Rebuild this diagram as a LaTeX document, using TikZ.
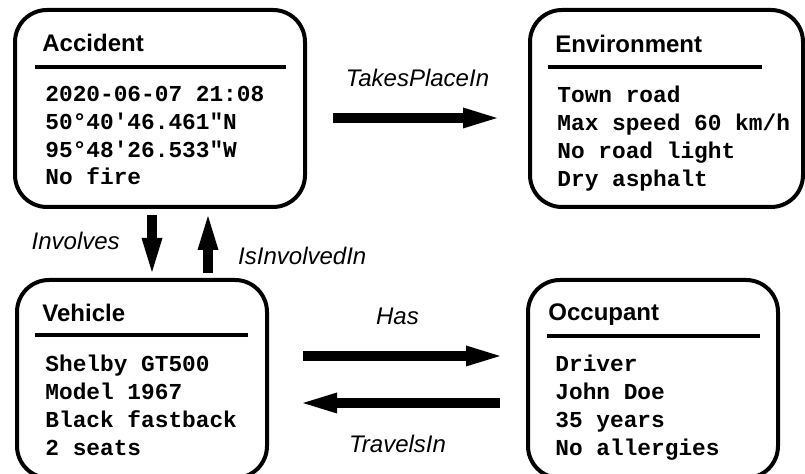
\documentclass[tikz,border=0pt]{standalone}
\usepackage{fontspec}
\setmainfont{Liberation Sans}
\setmonofont{Liberation Mono}
\usetikzlibrary{arrows.meta,positioning}

\tikzset{
  entity/.style={draw, line width=2pt, rounded corners=16pt, outer sep=0pt, anchor=north west},
  entitytitle/.style={anchor=base west, inner sep=0pt, font=\fontsize{12}{14}\selectfont\bfseries},
  divider/.style={line width=2pt},
  attrs/.style={anchor=north west, inner sep=0pt, align=left,
    font=\fontsize{11.4}{13.85}\selectfont\ttfamily\bfseries, execute at begin node=\strut},
  relation/.style={line width=5.25pt, -{Triangle[length=17pt,width=10.5pt,line width=0pt]}},
  rellabel/.style={inner sep=0pt, font=\fontsize{12}{14}\selectfont\itshape}
}

\begin{document}
\begin{tikzpicture}[x=0.5pt,y=-0.5pt]
  \useasboundingbox (0,0) rectangle (805,474);
  \clip (0,0) rectangle (805,474);
  \fill[white] (0,0) rectangle (805,474);

  % Accident box
  \node[entity, minimum width=145pt, minimum height=98.5pt] (acc) at (15,10) {};
  \node[entitytitle] (acctitle) at ([xshift=13.5pt,yshift=-21pt]acc.north west) {Accident};
  \draw[divider] ([xshift=10pt,yshift=-28.5pt]acc.north west) -- ([xshift=-9.5pt,yshift=-28.5pt]acc.north east);
  \node[attrs] (accattrs) at ([xshift=15pt,yshift=-38pt]acc.north west)
    {2020-06-07 21:08\\50°40′46.461″N\\95°48′26.533″W\\No fire};

  % Environment box
  \node[entity, minimum width=136.5pt, minimum height=98.5pt] (env) at (530,10) {};
  \node[entitytitle] (envtitle) at ([xshift=12.5pt,yshift=-21.5pt]env.north west) {Environment};
  \draw[divider] ([xshift=9pt,yshift=-28.5pt]env.north west) -- ([xshift=-20.5pt,yshift=-28.5pt]env.north east);
  \node[attrs] (envattrs) at ([xshift=13.5pt,yshift=-38pt]env.north west)
    {Town road\\Max speed 60 km/h\\No road light\\Dry asphalt};

  % Vehicle box
  \node[entity, minimum width=125pt, minimum height=99pt] (veh) at (17,280) {};
  \node[entitytitle] (vehtitle) at ([xshift=12.5pt,yshift=-21pt]veh.north west) {Vehicle};
  \draw[divider] ([xshift=9pt,yshift=-27.5pt]veh.north west) -- ([xshift=-9.5pt,yshift=-27.5pt]veh.north east);
  \node[attrs] (vehattrs) at ([xshift=14pt,yshift=-37.5pt]veh.north west)
    {Shelby GT500\\Model 1967\\Black fastback\\2 seats};

  % Occupant box
  \node[entity, minimum width=125pt, minimum height=99pt] (occ) at (528,280) {};
  \node[entitytitle] (occtitle) at ([xshift=10pt,yshift=-20.5pt]occ.north west) {Occupant};
  \draw[divider] ([xshift=9.5pt,yshift=-28pt]occ.north west) -- ([xshift=-9pt,yshift=-28pt]occ.north east);
  \node[attrs] (occattrs) at ([xshift=13.5pt,yshift=-37.5pt]occ.north west)
    {Driver\\John Doe\\35 years\\No allergies};

  % Relations
  \draw[relation, shorten <=14pt, shorten >=16.5pt] ([yshift=-4.75pt]acc.east) -- ([yshift=-4.75pt]env.west)
    node[rellabel, midway, above=13pt] (takes) {TakesPlaceIn};
  \draw[relation, shorten <=4pt, shorten >=4pt] ([xshift=-4pt]acc.south) -- ([xshift=-4pt]acc.south |- veh.north)
    node[rellabel, midway, left=13.5pt, yshift=1.5pt] (involves) {Involves};
  \draw[relation, shorten <=3.5pt, shorten >=4.5pt] ([xshift=24pt]acc.south |- veh.north) -- ([xshift=24pt]acc.south)
    node[rellabel, midway, right=12.5pt, yshift=-6pt] (isinvolved) {IsInvolvedIn};
  \draw[relation, shorten <=18pt, shorten >=14pt] ([yshift=11.5pt]veh.east) -- ([yshift=11.5pt]veh.east -| occ.west)
    node[rellabel, midway, above=13pt] (has) {Has};
  \draw[relation, shorten <=14pt, shorten >=18pt] ([yshift=-12pt]occ.west) -- ([yshift=-12pt]occ.west -| veh.east)
    node[rellabel, midway, below=13.5pt] (travels) {TravelsIn};
\end{tikzpicture}
\end{document}
